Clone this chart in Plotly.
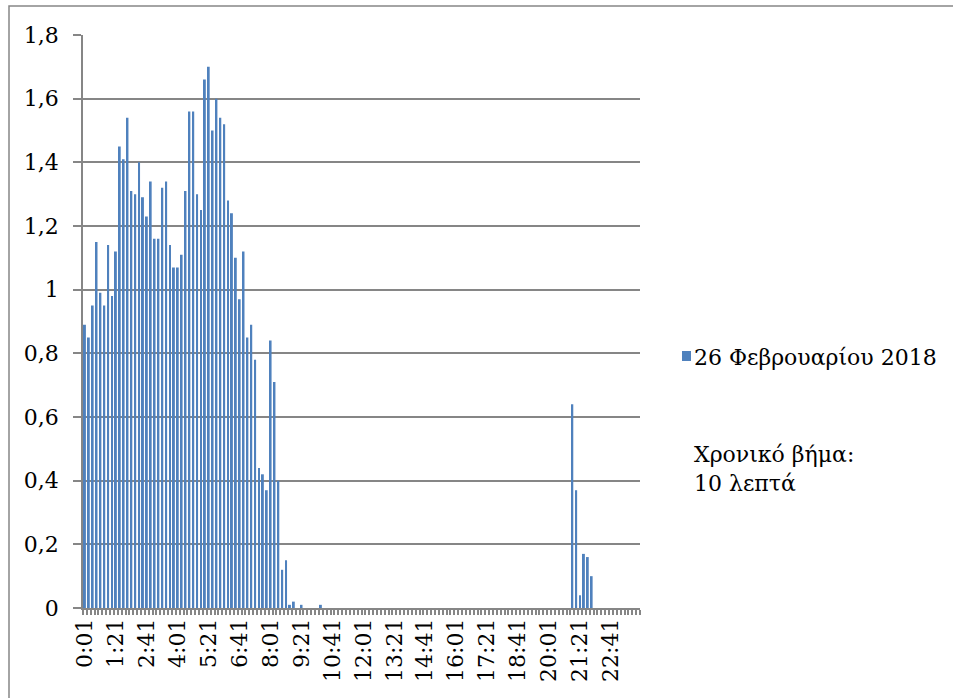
import plotly.graph_objects as go

# 10-minute time steps across the day, starting at 0:01
times = [f"{t // 60}:{t % 60:02d}" for t in range(1, 1440, 10)]

values = [
    0.89, 0.85, 0.95, 1.15, 0.99, 0.95, 1.14, 0.98, 1.12, 1.45,
    1.41, 1.54, 1.31, 1.30, 1.40, 1.29, 1.23, 1.34, 1.16, 1.16,
    1.32, 1.34, 1.14, 1.07, 1.07, 1.11, 1.31, 1.56, 1.56, 1.30,
    1.25, 1.66, 1.70, 1.50, 1.60, 1.54, 1.52, 1.28, 1.24, 1.10,
    0.97, 1.12, 0.85, 0.89, 0.78, 0.44, 0.42, 0.37, 0.84, 0.71,
    0.40, 0.12, 0.15, 0.01, 0.02, 0, 0.01, 0, 0, 0,
    0, 0.01,
    0, 0, 0, 0, 0, 0, 0, 0, 0, 0, 0, 0, 0, 0, 0, 0,
    0, 0, 0, 0, 0, 0, 0, 0, 0, 0, 0, 0, 0, 0, 0, 0,
    0, 0, 0, 0, 0, 0, 0, 0, 0, 0, 0, 0, 0, 0, 0, 0,
    0, 0, 0, 0, 0, 0, 0, 0, 0, 0, 0, 0, 0, 0, 0, 0,
    0.64, 0.37, 0.04, 0.17, 0.16, 0.10,
    0, 0, 0, 0, 0, 0, 0, 0, 0, 0, 0, 0,
]

series_name = "26 Φεβρουαρίου 2018"
note_text = "Χρονικό βήμα:<br>10 λεπτά"

# label every 8th category (every 80 minutes)
tick_text = [t if i % 8 == 0 else "" for i, t in enumerate(times)]

FONT = "DejaVu Serif"
GRID = "#868686"
BLUE = "#4F81BD"

W, H = 953, 698
L, R, T, B = 83, 313, 35, 90
pw, ph = W - L - R, H - T - B


def px_x(x):
    return (x - L) / pw


def px_y(y):
    return (H - B - y) / ph


fig = go.Figure()
fig.add_trace(go.Bar(
    x=times, y=values, name=series_name,
    marker=dict(color=BLUE, line=dict(width=0)),
    showlegend=False,
))

shapes = [
    # outer chart border
    dict(type="rect", xref="paper", yref="paper",
         x0=px_x(9), x1=px_x(965), y0=px_y(710), y1=px_y(6),
         line=dict(color=GRID, width=1.5), fillcolor="rgba(0,0,0,0)", layer="below"),
    # legend swatch
    dict(type="rect", xref="paper", yref="paper",
         x0=px_x(682), x1=px_x(691), y0=px_y(361), y1=px_y(351),
         line=dict(width=0), fillcolor=BLUE),
]

annotations = [
    dict(xref="paper", yref="paper", x=px_x(692), y=px_y(357),
         xanchor="left", yanchor="middle", text=series_name, showarrow=False,
         font=dict(family=FONT, size=22, color="black")),
    dict(xref="paper", yref="paper", x=px_x(692), y=px_y(440),
         xanchor="left", yanchor="top", align="left", text=note_text, showarrow=False,
         font=dict(family=FONT, size=22, color="black")),
]

fig.update_layout(
    width=W, height=H,
    margin=dict(l=L, r=R, t=T, b=B, pad=0),
    paper_bgcolor="white", plot_bgcolor="white",
    separators=", ",
    bargap=0.5,
    font=dict(family=FONT, size=22, color="black"),
    shapes=shapes, annotations=annotations,
    xaxis=dict(
        type="category",
        tickmode="array", tickvals=times, ticktext=tick_text,
        tickangle=-90, tickson="boundaries",
        ticks="outside", ticklen=5, tickwidth=1.5, tickcolor=GRID,
        showline=True, linecolor=GRID, linewidth=1.5,
        showgrid=False, zeroline=False,
        tickfont=dict(family=FONT, size=22, color="black"),
    ),
    yaxis=dict(
        range=[0, 1.8], dtick=0.2, tick0=0,
        ticks="outside", ticklen=8, tickwidth=1.5, tickcolor=GRID,
        showline=True, linecolor=GRID, linewidth=1.5,
        showgrid=True, gridcolor=GRID, gridwidth=1.5,
        zeroline=False,
        ticklabelstandoff=10,
        tickfont=dict(family=FONT, size=22, color="black"),
    ),
)

fig.write_html("out.html")
